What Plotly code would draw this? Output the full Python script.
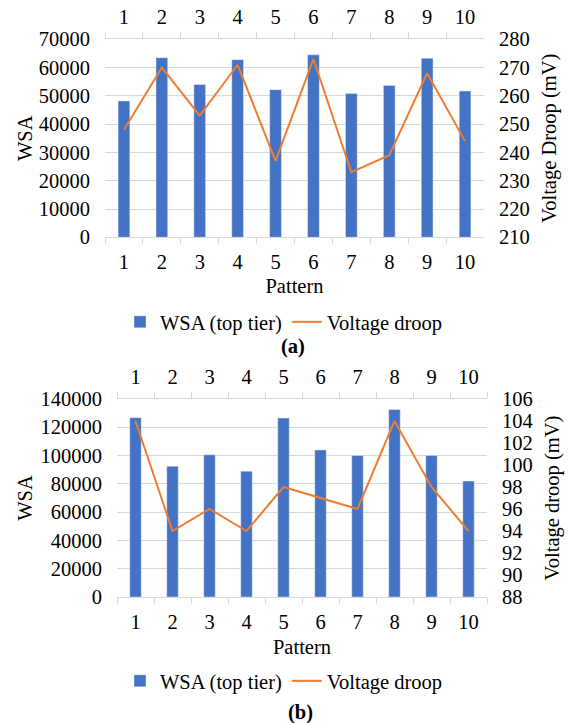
import plotly.graph_objects as go

patterns = ["1", "2", "3", "4", "5", "6", "7", "8", "9", "10"]
wsa_a = [48200, 63500, 54000, 62800, 52200, 64500, 50800, 53700, 63300, 51700]
droop_a = [248, 270, 253, 271, 237, 273, 233, 239, 268, 244]
wsa_b = [126800, 92500, 100500, 89000, 126500, 104000, 100000, 132500, 100000, 82000]
droop_b = [104, 94, 96, 94, 98, 97, 96, 104, 98, 94]

BAR = "#4472C4"
LINE = "#ED7D31"
GRID = "#D9D9D9"
FONT = "Liberation Serif, Times New Roman, DejaVu Serif, serif"
FS = 20.5
W, H = 568, 723

def px_x(v):
    return v / W

def px_y(v):
    return (H - v) / H

fig = go.Figure()
fig.add_trace(go.Bar(x=patterns, y=wsa_a, name="WSA (top tier)", marker_color=BAR,
                     xaxis="x", yaxis="y", legend="legend"))
fig.add_trace(go.Scatter(x=patterns, y=droop_a, name="Voltage droop", mode="lines",
                         line=dict(color=LINE, width=2), xaxis="x2", yaxis="y2", legend="legend"))
fig.add_trace(go.Bar(x=patterns, y=wsa_b, name="WSA (top tier)", marker_color=BAR,
                     xaxis="x3", yaxis="y3", legend="legend2"))
fig.add_trace(go.Scatter(x=patterns, y=droop_b, name="Voltage droop", mode="lines",
                         line=dict(color=LINE, width=2), xaxis="x4", yaxis="y4", legend="legend2"))

tf = dict(family=FONT, size=FS, color="#000000")

def xax(domain, anchor, side, overlay=None, title=None, tstand=9):
    d = dict(domain=domain, anchor=anchor, side=side, type="category", automargin=False,
             categoryorder="array", categoryarray=patterns, range=[-0.5, len(patterns) - 0.5],
             showline=True, linecolor=GRID, linewidth=1, ticks="outside",
             tickson="boundaries", ticklen=6, tickcolor=GRID, tickwidth=1,
             showgrid=False, tickfont=tf, ticklabelstandoff=6)
    if overlay:
        d["overlaying"] = overlay
    if title:
        d["title"] = dict(text=title, font=tf, standoff=tstand)
    return d

def yax(domain, anchor, side, rng, dtick, grid, title, overlay=None, standoff=6):
    d = dict(domain=domain, anchor=anchor, side=side, range=rng, dtick=dtick, automargin=False,
             tickformat="d", showgrid=grid, gridcolor=GRID, gridwidth=1,
             zeroline=False, showline=False, ticks="", tickfont=tf,
             ticklabelstandoff=14, title=dict(text=title, font=tf, standoff=standoff))
    if overlay:
        d["overlaying"] = overlay
    return d

xa = [px_x(105), px_x(484)]
ya = [px_y(237.3), px_y(39.3)]
xb = [px_x(117), px_x(487)]
yb = [px_y(597), px_y(399)]

fig.update_layout(
    width=W, height=H,
    margin=dict(l=0, r=0, t=0, b=0),
    paper_bgcolor="white", plot_bgcolor="white",
    font=tf,
    bargap=0.69,
    xaxis=xax(xa, "y", "bottom", title="Pattern", tstand=6),
    xaxis2=xax(xa, "y2", "top", overlay="x"),
    yaxis=yax(ya, "x", "left", [0, 70000], 10000, True, "WSA", standoff=0),
    yaxis2=yax(ya, "x2", "right", [210, 280], 10, False, "Voltage Droop (mV)", overlay="y", standoff=12),
    xaxis3=xax(xb, "y3", "bottom", title="Pattern", tstand=8),
    xaxis4=xax(xb, "y4", "top", overlay="x3"),
    yaxis3=yax(yb, "x3", "left", [0, 140000], 20000, True, "WSA", standoff=2),
    yaxis4=yax(yb, "x4", "right", [88, 106], 2, False, "Voltage droop (mV)", overlay="y3", standoff=12),
    legend=dict(orientation="h", x=0.50, xanchor="center", y=px_y(322), yanchor="middle",
                font=tf, bgcolor="rgba(0,0,0,0)"),
    legend2=dict(orientation="h", x=0.50, xanchor="center", y=px_y(681), yanchor="middle",
                 font=tf, bgcolor="rgba(0,0,0,0)"),
    annotations=[
        dict(text="<b>(a)</b>", x=px_x(293), y=px_y(347), xref="paper", yref="paper",
             showarrow=False, font=tf, xanchor="center", yanchor="middle"),
        dict(text="<b>(b)</b>", x=px_x(300), y=px_y(712), xref="paper", yref="paper",
             showarrow=False, font=tf, xanchor="center", yanchor="middle"),
    ],
)

fig.write_html("out.html", config={"displayModeBar": False},
               post_script="document.body.style.margin='0';document.body.style.overflow='hidden';")
